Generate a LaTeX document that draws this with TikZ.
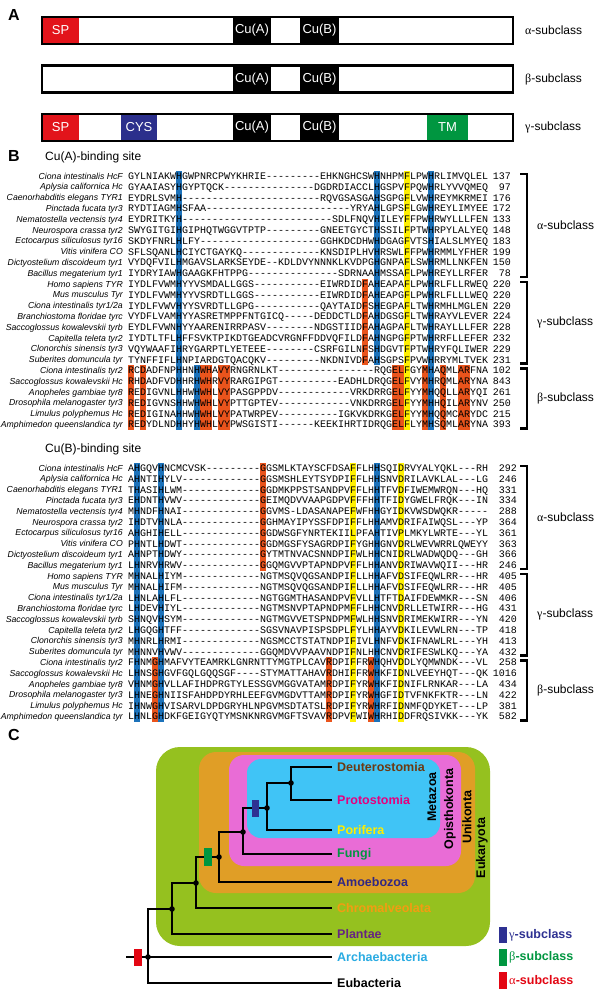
\documentclass[tikz,border=0pt]{standalone}
\usepackage{fontspec}
\setmainfont{Liberation Sans}
\newfontfamily\seqfont{Liberation Mono}
\newfontfamily\grkfont{Liberation Serif}
\makeatletter
\newcommand{\seqrow}[1]{\@tfor\sq@c:=#1\do{\hbox to 6pt{\hss\sq@c\hss}}}
\makeatother
\definecolor{hb}{RGB}{28,114,186}
\definecolor{ho}{RGB}{234,84,28}
\definecolor{hy}{RGB}{255,240,0}
\definecolor{spred}{RGB}{226,20,27}
\definecolor{cysblue}{RGB}{43,47,140}
\definecolor{tmgreen}{RGB}{0,150,64}
\definecolor{cgreen}{RGB}{149,193,31}
\definecolor{corange}{RGB}{224,158,38}
\definecolor{cpink}{RGB}{233,108,214}
\definecolor{cblue}{RGB}{64,196,246}
\definecolor{tdeut}{RGB}{108,58,18}
\definecolor{tprot}{RGB}{230,0,126}
\definecolor{tporif}{RGB}{255,237,0}
\definecolor{tfungi}{RGB}{0,150,64}
\definecolor{tamoeb}{RGB}{49,39,131}
\definecolor{tchrom}{RGB}{243,156,18}
\definecolor{tplant}{RGB}{102,36,131}
\definecolor{tarch}{RGB}{41,171,226}
\definecolor{lgam}{RGB}{46,49,146}
\definecolor{lbet}{RGB}{0,150,64}
\definecolor{lalp}{RGB}{227,6,19}
\newcommand{\seqline}[5]{%
  \pgfmathsetmacro{\yy}{ifthenelse(#1==1,176,468)+(#2-1)*10.8}%
  \pgfmathsetmacro{\xn}{ifthenelse(#1==1,511,517)}%
  \node[namet] (nm#1r#2) at (123,\yy+3.1) {#3};
  \node[seqt] (sq#1r#2) at (128,\yy+3.4) {\seqrow{#4}};
  \node[numt] (no#1r#2) at (\xn,\yy+3.4) {#5};
}
\newcommand{\hlcol}[5]{%
  \pgfmathsetmacro{\hlb}{ifthenelse(#2==1,176,468)}%
  \fill[#1] ({128+(#3-1)*6},{\hlb+(#4-1)*10.8-5.4}) rectangle ({128+#3*6},{\hlb+(#5-1)*10.8+5.4});
}
\newcommand{\brkt}[4]{%
  \draw[brkline] (520,#1) -- (527,#1) -- (527,#2) -- (520,#2);
  \node[sublab] (#4) at (537,{(#1+#2)/2}) {#3};
}
\tikzset{
 namet/.style={anchor=base east, inner sep=0pt, font=\fontsize{8.7}{10}\selectfont\itshape},
 seqt/.style={anchor=base west, inner sep=0pt, font=\seqfont\fontsize{10}{12}\selectfont},
 numt/.style={anchor=base east, inner sep=0pt, font=\seqfont\fontsize{10}{12}\selectfont},
 brkline/.style={line width=2.3pt},
 sublab/.style={anchor=west, inner sep=0pt, font=\fontsize{12}{14}\selectfont},
 plabel/.style={font=\fontsize{16}{18}\selectfont\bfseries, inner sep=0pt},
 bartext/.style={text=white, font=\fontsize{13}{15}\selectfont, inner sep=0pt},
 barline/.style={line width=2.8pt},
 taxon/.style={anchor=west, inner xsep=5pt, inner ysep=0pt, font=\fontsize{12.5}{14}\selectfont\bfseries},
 clade/.style={rotate=90, inner sep=0pt, font=\fontsize{12.5}{14}\selectfont\bfseries},
 tree/.style={line width=2.6pt},
 legt/.style={anchor=west, inner sep=0pt, font=\fontsize{12.5}{14}\selectfont\bfseries},
}
\begin{document}
\begin{tikzpicture}[x=1pt,y=-1pt]
\useasboundingbox (0,0) rectangle (600,990);
\fill[white] (0,0) rectangle (600,990);

% ---------------- Panel A
\node[plabel] (labA) at (14,15) {A};
% alpha
\fill[spred] (42,17) rectangle (79,44);
\fill[black] (233,17) rectangle (271,44);
\fill[black] (300,17) rectangle (339,44);
\draw[barline] (42,17) rectangle (513,44);
\node[bartext] (spa) at (60.5,30.5) {SP};
\node[bartext] (cuaa) at (252,30.5) {Cu(A)};
\node[bartext] (cuba) at (319.5,30.5) {Cu(B)};
\node[sublab] (lala) at (525,30.5) {{\grkfont α}-subclass};
% beta
\fill[black] (233,65.5) rectangle (271,92.5);
\fill[black] (300,65.5) rectangle (339,92.5);
\draw[barline] (42,65.5) rectangle (513,92.5);
\node[bartext] (cuab) at (252,79) {Cu(A)};
\node[bartext] (cubb) at (319.5,79) {Cu(B)};
\node[sublab] (lalb) at (525,79) {{\grkfont β}-subclass};
% gamma
\fill[spred] (42,114) rectangle (79,141);
\fill[cysblue] (121,114) rectangle (157,141);
\fill[black] (233,114) rectangle (271,141);
\fill[black] (300,114) rectangle (339,141);
\fill[tmgreen] (427,114) rectangle (468,141);
\draw[barline] (42,114) rectangle (513,141);
\node[bartext] (spg) at (60.5,127.5) {SP};
\node[bartext] (cysg) at (139,127.5) {CYS};
\node[bartext] (cuag) at (252,127.5) {Cu(A)};
\node[bartext] (cubg) at (319.5,127.5) {Cu(B)};
\node[bartext] (tmg) at (447.5,127.5) {TM};
\node[sublab] (lalg) at (525,127.5) {{\grkfont γ}-subclass};

% ---------------- Panel B
\node[plabel] (labB) at (14,156) {B};
\node[sublab] (cuatitle) at (45,157) {Cu(A)-binding site};
\node[sublab] (cubtitle) at (45,449) {Cu(B)-binding site};

% highlights block 1
\hlcol{hb}{1}{9}{1}{24}
\hlcol{hb}{1}{42}{1}{18}
\hlcol{ho}{1}{40}{11}{18}
\hlcol{hy}{1}{47}{1}{24}
\hlcol{hb}{1}{51}{1}{24}
\hlcol{hb}{1}{12}{19}{24}
\foreach \c in {1,3,13,14,16,17,45,46,50,53,56,57}{\hlcol{ho}{1}{\c}{19}{24}}
% highlights block 2
\hlcol{hb}{2}{2}{1}{24}
\hlcol{hb}{2}{6}{1}{24}
\hlcol{ho}{2}{23}{1}{10}
\hlcol{hy}{2}{38}{1}{24}
\hlcol{hb}{2}{42}{1}{24}
\hlcol{hy}{2}{46}{1}{24}
\foreach \c in {5,34,41}{\hlcol{ho}{2}{\c}{19}{24}}

% block 1 rows
\seqline{1}{1}{Ciona intestinalis HcF}{GYLNIAKWHGWPNRCPWYKHRIE---------EHKNGHCSWHNHPMFLPWHRLIMVQLEL}{137}
\seqline{1}{2}{Aplysia californica Hc}{GYAAIASYHGYPTQCK---------------DGDRDIACCLHGSPVFPQWHRLYVVQMEQ}{97}
\seqline{1}{3}{Caenorhabditis elegans TYR1}{EYDRLSVMH-----------------------RQVGSASGAHSGPGFLVWHREYMKRMEI}{176}
\seqline{1}{4}{Pinctada fucata tyr3}{RYDTIAGMHSFAA------------------------YRYAHLGPSFLGWHREYLIMYEE}{172}
\seqline{1}{5}{Nematostella vectensis tyr4}{EYDRITKYH-------------------------SDLFNQVHILEYFFPWHRWYLLLFEN}{133}
\seqline{1}{6}{Neurospora crassa tyr2}{SWYGITGIHGIPHQTWGGVTPTP---------GNEETGYCTHSSILFPTWHRPYLALYEQ}{148}
\seqline{1}{7}{Ectocarpus siliculosus tyr16}{SKDYFNRLHLFY--------------------GGHKDCDHWHDGAGFVTSHIALSLMYEQ}{183}
\seqline{1}{8}{Vitis vinifera CO}{SFLSQANLHCIYCTGAYKQ-------------KNSDIPLHVHRSWLFFPWHRMMLYFHER}{199}
\seqline{1}{9}{Dictyostelium discoideum tyr1}{VYDQFVILHMGAVSLARKSEYDE--KDLDVYNNNKLKVDPGHGNPAFLSWHRMLLNKFEN}{150}
\seqline{1}{10}{Bacillus megaterium tyr1}{IYDRYIAWHGAAGKFHTPPG---------------SDRNAAHMSSAFLPWHREYLLRFER}{78}
\seqline{1}{11}{Homo sapiens TYR}{IYDLFVWMHYYVSMDALLGGS-----------EIWRDIDFAHEAPAFLPWHRLFLLRWEQ}{220}
\seqline{1}{12}{Mus musculus Tyr}{IYDLFVWMHYYVSRDTLLGGS-----------EIWRDIDFAHEAPGFLPWHRLFLLLWEQ}{220}
\seqline{1}{13}{Ciona intestinalis tyr1/2a}{IYDLFVWVHYYSVRDTLLGPG-----------QAYTAIDFSHEGPAFLTWHRMHLMGLEN}{220}
\seqline{1}{14}{Branchiostoma floridae tyrc}{VYDFLVAMHYYASRETMPPFNTGICQ-----DEDDCTLDFAHDGSGFLTWHRAYVLEVER}{224}
\seqline{1}{15}{Saccoglossus kowalevskii tyrb}{EYDLFVWNHYYAARENIRRPASV--------NDGSTIIDFAHAGPAFLTWHRAYLLLFER}{228}
\seqline{1}{16}{Capitella teleta tyr2}{IYDTLTFLHFFSVKTPIKDTGEADCVRGNFFDDVQFILDFAHNGPGFPTWHRRFLLEFER}{232}
\seqline{1}{17}{Clonorchis sinensis tyr3}{VQYWAAFIHRYGARPTLYETEEE--------CSRFGILNFSHDGVTFPTWHRYFQLIWER}{229}
\seqline{1}{18}{Suberites domuncula tyr}{TYNFFIFLHNPIARDGTQACQKV---------NKDNIVDFAHSGPSFPVWHRRYMLTVEK}{231}
\seqline{1}{19}{Ciona intestinalis tyr2}{RCDADFNPHHNHWHAVYRNGRNLKT----------------RQGELFGYMHAQMLARFNA}{102}
\seqline{1}{20}{Saccoglossus kowalevskii Hc}{RHDADFVDHHRHWHRVYRARGIPGT----------EADHLDRQGELFVYMHRQMLARYNA}{843}
\seqline{1}{21}{Anopheles gambiae tyr8}{REDIGVNLHHWHWHLVYPASGPPDV------------VRKDRRGELFYYMHQQLLARYQI}{261}
\seqline{1}{22}{Drosophila melanogaster tyr3}{REDIGVNSHHWHWHLVYPTTGPTEV------------VNKDRRGELFYYMHHQILARYNV}{250}
\seqline{1}{23}{Limulus polyphemus Hc}{REDIGINAHHWHWHLVYPATWRPEV----------IGKVKDRKGELFYYMHQQMCARYDC}{215}
\seqline{1}{24}{Amphimedon queenslandica tyr}{REDYDLNDHHYHWHLVYPWSGISTI------KEEKIHRTIDRQGELFLYMHSQMLARYNA}{393}

% block 2 rows
\seqline{2}{1}{Ciona intestinalis HcF}{AHGQVHNCMCVSK---------GGSMLKTAYSCFDSAFFLHHSQIDRVYALYQKL---RH}{292}
\seqline{2}{2}{Aplysia californica Hc}{AHNTIHYLV-------------GGSMSHLEYTSYDPIFFLHHSNVDRILAVKLAL---LG}{246}
\seqline{2}{3}{Caenorhabditis elegans TYR1}{THASIHLWM-------------GGDMKPPSTSANDPVFFLHHTFVDFIWEMWRQN---HQ}{331}
\seqline{2}{4}{Pinctada fucata tyr3}{EHDNTHVWV-------------GEIMQDVVAAPGDPVFFFHHTFIDYGWELFRQK---IN}{334}
\seqline{2}{5}{Nematostella vectensis tyr4}{MHNDFHNAI-------------GGVMS-LDASANAPEFWFHHGYIDKVWSDWQKR-----}{288}
\seqline{2}{6}{Neurospora crassa tyr2}{IHDTVHNLA-------------GGHMAYIPYSSFDPIFFLHHAMVDRIFAIWQSL---YP}{364}
\seqline{2}{7}{Ectocarpus siliculosus tyr16}{AHGHIHELL-------------GGDWSGFYNRTEKIILPFAHTIVPLMKYLWRTE---YL}{361}
\seqline{2}{8}{Vitis vinifera CO}{PHNTLHDWT-------------GGDMGSFYSAGRDPIFYGHHGNVDRLWEVWRRLQWEYY}{363}
\seqline{2}{9}{Dictyostelium discoideum tyr1}{AHNPTHDWY-------------GYTMTNVACSNNDPIFWLHHCNIDRLWADWQDQ---GH}{366}
\seqline{2}{10}{Bacillus megaterium tyr1}{LHNRVHRWV-------------GGQMGVVPTAPNDPVFFLHHANVDRIWAVWQII---HR}{246}
\seqline{2}{11}{Homo sapiens TYR}{MHNALHIYM-------------NGTMSQVQGSANDPIFLLHHAFVDSIFEQWLRR---HR}{405}
\seqline{2}{12}{Mus musculus Tyr}{MHNALHIFM-------------NGTMSQVQGSANDPIFLLHHAFVDSIFEQWLRR---HR}{405}
\seqline{2}{13}{Ciona intestinalis tyr1/2a}{LHNLAHLFL-------------NGTGGMTHASANDPVFVLLHTFTDAIFDEWMKR---SN}{406}
\seqline{2}{14}{Branchiostoma floridae tyrc}{LHDEVHIYL-------------NGTMSNVPTAPNDPMFFLHHCNVDRLLETWIRR---HG}{431}
\seqline{2}{15}{Saccoglossus kowalevskii tyrb}{SHNQVHSYM-------------NGTMGVVETSPNDPMFWLHHSNVDRIMEKWIRR---YN}{420}
\seqline{2}{16}{Capitella teleta tyr2}{LHGQGHTFF-------------SGSVNAVPISPSDPLFYLHHAYVDKILEVWLRN---TP}{418}
\seqline{2}{17}{Clonorchis sinensis tyr3}{MHNRLHRMI-------------NGSMCCTSTATNDPIFIVLHNFVDKIFNAWLRL---YH}{413}
\seqline{2}{18}{Suberites domuncula tyr}{MHNNVHVWV-------------GGQMDVVPAAVNDPIFNLHHCNVDRIFESWLKQ---YA}{432}
\seqline{2}{19}{Ciona intestinalis tyr2}{FHNMGHMAFVYTEAMRKLGNRNTTYMGTPLCAVRDPIFFRWHQHVDDLYQMWNDK---VL}{258}
\seqline{2}{20}{Saccoglossus kowalevskii Hc}{LHNSGHGVFGQLGQQSGF----STYMATTAHAVRDHIFFRWHKFIDNLVEEYHQT---QK}{1016}
\seqline{2}{21}{Anopheles gambiae tyr8}{VHNMGHVLLAFIHDPRGTYLESSGVMGGVATAMRDPIFYRWHKFIDNIFLRNKAR---LA}{434}
\seqline{2}{22}{Drosophila melanogaster tyr3}{LHNEGHNIISFAHDPDYRHLEEFGVMGDVTTAMRDPIFYRWHGFIDTVFNKFKTR---LN}{422}
\seqline{2}{23}{Limulus polyphemus Hc}{IHNWGHVISARVLDPDGRYHLNPGVMSDTATSLRDPIFYRWHRFIDNMFQDYKET---LP}{381}
\seqline{2}{24}{Amphimedon queenslandica tyr}{LHNLGHDKFGEIGYQTYMSNKNRGVMGFTSVAVRDPVFWIWHRHIDDFRQSIVKK---YK}{582}

% brackets
\brkt{174}{277.2}{{\grkfont α}-subclass}{b1a}
\brkt{282}{363.6}{{\grkfont γ}-subclass}{b1g}
\brkt{368.4}{428.4}{{\grkfont β}-subclass}{b1b}
\brkt{466}{569.2}{{\grkfont α}-subclass}{b2a}
\brkt{574}{655.6}{{\grkfont γ}-subclass}{b2g}
\brkt{660.4}{720.4}{{\grkfont β}-subclass}{b2b}

% ---------------- Panel C
\node[plabel] (labC) at (14,735) {C};
\fill[cgreen, rounded corners=24pt] (156,747) rectangle (490,946);
\fill[corange, rounded corners=17pt] (199,752) rectangle (475,893);
\fill[cpink, rounded corners=15pt] (229,755) rectangle (461,866);
\fill[cblue, rounded corners=14pt] (247,759) rectangle (440,838);

\node[clade] (metazoa) at (432,797) {Metazoa};
\node[clade] (opist) at (450,809) {Opisthokonta};
\node[clade] (unik) at (467,817) {Unikonta};
\node[clade] (euk) at (482,848) {Eukaryota};

\node[taxon, text=tdeut] (deut) at (332,767) {Deuterostomia};
\node[taxon, text=tprot] (prot) at (332,800) {Protostomia};
\node[taxon, text=tporif] (porif) at (332,830) {Porifera};
\node[taxon, text=tfungi] (fungi) at (332,854) {Fungi};
\node[taxon, text=tamoeb] (amoeb) at (332,882) {Amoebozoa};
\node[taxon, text=tchrom] (chrom) at (332,908) {Chromalveolata};
\node[taxon, text=tplant] (plant) at (332,934) {Plantae};
\node[taxon, text=tarch] (arch) at (332,957) {Archaebacteria};
\node[taxon, text=black] (eub) at (332,983) {Eubacteria};

\coordinate (root) at (126,957);
\coordinate (n0) at (148,957);
\coordinate (n1) at (172,909);
\coordinate (n2) at (196,883);
\coordinate (n3) at (219,857);
\coordinate (n4) at (243,832);
\coordinate (n5) at (267,808);
\coordinate (n6) at (291,783);

\draw[tree] (root) -- (n0) -- (arch.west);
\draw[tree] (n0) |- (eub.west);
\draw[tree] (n0) |- (n1);
\draw[tree] (n1) |- (plant.west);
\draw[tree] (n1) |- (n2);
\draw[tree] (n2) |- (chrom.west);
\draw[tree] (n2) |- (n3);
\draw[tree] (n3) |- (amoeb.west);
\draw[tree] (n3) |- (n4);
\draw[tree] (n4) |- (fungi.west);
\draw[tree] (n4) |- (n5);
\draw[tree] (n5) |- (porif.west);
\draw[tree] (n5) |- (n6);
\draw[tree] (n6) |- (deut.west);
\draw[tree] (n6) |- (prot.west);
\foreach \n in {n0,n1,n2,n3,n4,n5,n6}{\fill (\n) circle (2.8pt);}

\fill[lalp] (134,949) rectangle (142,966);
\fill[lbet] (204,848) rectangle (212,866);
\fill[lgam] (252,800) rectangle (259,817);

% legend
\fill[lgam] (499,927) rectangle (507,943);
\node[legt, text=lgam] (lg) at (509,935) {{\grkfont\mdseries γ}-subclass};
\fill[lbet] (499,949) rectangle (507,966);
\node[legt, text=lbet] (lb) at (509,957.5) {{\grkfont\mdseries β}-subclass};
\fill[lalp] (499,972) rectangle (507,989);
\node[legt, text=lalp] (la) at (509,980.5) {{\grkfont\mdseries α}-subclass};
\end{tikzpicture}
\end{document}
